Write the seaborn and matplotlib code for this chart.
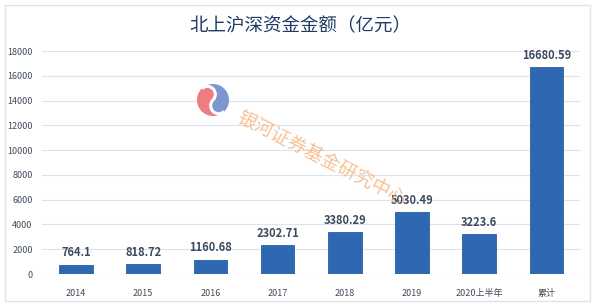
import matplotlib
matplotlib.use("Agg")
import matplotlib.pyplot as plt
import seaborn as sns
import pandas as pd
import numpy as np
from matplotlib.patches import Rectangle, Wedge, Circle, Arc

categories = ["2014", "2015", "2016", "2017", "2018", "2019", "2020上半年", "累计"]
values = [764.1, 818.72, 1160.68, 2302.71, 3380.29, 5030.49, 3223.6, 16680.59]
value_labels = ["764.1", "818.72", "1160.68", "2302.71", "3380.29", "5030.49", "3223.6", "16680.59"]
yticks = [0, 2000, 4000, 6000, 8000, 10000, 12000, 14000, 16000, 18000]
title = "北上沪深资金金额（亿元）"
watermark = "银河证券基金研究中心"

sns.set_theme(style="white")
plt.rcParams['font.family'] = ['Noto Sans CJK SC', 'DejaVu Sans']

df = pd.DataFrame({"cat": categories, "val": values})

fig = plt.figure(figsize=(6, 3.05), dpi=100)
fig.patch.set_facecolor("white")
ax = fig.add_axes([0.0707, 0.1016, 0.896, 0.731])

sns.barplot(data=df, x="cat", y="val", color="#2F68B2", width=0.5, ax=ax,
            saturation=1, edgecolor="#2A5D9F", linewidth=0.6, zorder=3)

ax.set_ylim(0, 18000)
ax.set_yticks(yticks)
ax.set_yticklabels([str(t) for t in yticks], fontsize=6.5, color="#404B5A")
ax.tick_params(axis="x", labelsize=6.5, colors="#404B5A", length=0, pad=11)
ax.tick_params(axis="y", length=0, pad=7)
ax.set_xlabel("")
ax.set_ylabel("")
ax.grid(axis="y", color="#DCE3EE", linewidth=0.8, zorder=0)
for s in ax.spines.values():
    s.set_visible(False)
ax.axhline(0, color="#D9D9D9", linewidth=0.8, zorder=2)

for i, (v, lab) in enumerate(zip(values, value_labels)):
    ax.text(i, v + 420, lab, ha="center", va="bottom", fontsize=8,
            fontweight="bold", color="#3B4A5E", zorder=5)

fig.text(0.5, 1 - 26 / 305, title, ha="center", va="center", fontsize=13.3,
         color="#1F3A63")

# figure border
fig.patches.append(Rectangle((0.008, 0.012), 0.975, 0.972, transform=fig.transFigure,
                             fill=False, edgecolor="#E3E3E3", linewidth=1.0))

# watermark logo (taeguk-like)
px, py, R = 213, 305 - 100, 16
red, blue = "#EE7C82", "#7C97CF"
a = np.deg2rad(135)
ux, uy = np.cos(a), np.sin(a)
fig.patches.append(Wedge((px, py), R, -45, 135, transform=None, facecolor=blue, edgecolor="none"))
fig.patches.append(Wedge((px, py), R, 135, 315, transform=None, facecolor=red, edgecolor="none"))
fig.patches.append(Circle((px + ux * R / 2, py + uy * R / 2), R / 2, transform=None,
                          facecolor=red, edgecolor="none"))
fig.patches.append(Circle((px - ux * R / 2, py - uy * R / 2), R / 2, transform=None,
                          facecolor=blue, edgecolor="none"))
fig.patches.append(Arc((px + ux * R / 2, py + uy * R / 2), R, R, theta1=-45, theta2=135,
                       transform=None, edgecolor="white", linewidth=2.2))
fig.patches.append(Arc((px - ux * R / 2, py - uy * R / 2), R, R, theta1=135, theta2=315,
                       transform=None, edgecolor="white", linewidth=2.2))

fig.text(243 / 600, 1 - 106 / 305, watermark, ha="left", va="top", rotation=-27,
         rotation_mode="anchor", fontsize=13.5, color="#F5B27A", alpha=0.8, zorder=10)

fig.savefig("out.png", dpi=100)
